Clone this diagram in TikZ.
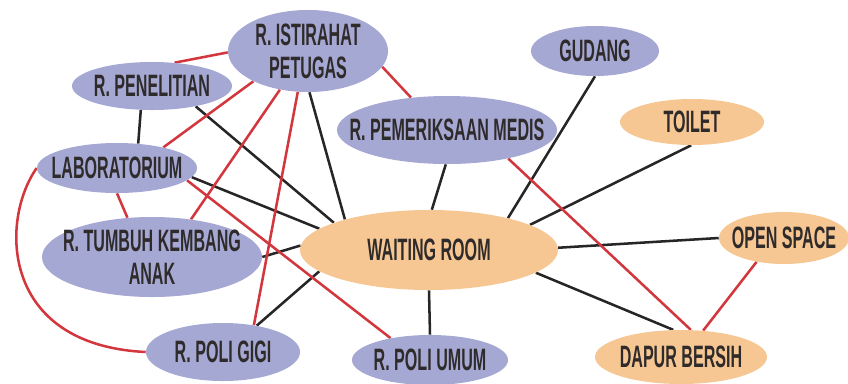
\documentclass[tikz,border=0pt]{standalone}
\usepackage{fontspec}
\newfontfamily\roomfont{Liberation Sans}[FakeStretch=0.52]
\usetikzlibrary{shapes.geometric,backgrounds}
\definecolor{roompurple}{HTML}{A6A8D4}
\definecolor{hallorange}{HTML}{F6C793}
\definecolor{tagtext}{HTML}{2F2B2B}
\definecolor{linkred}{HTML}{D2373D}
\definecolor{linkblack}{HTML}{262626}

\begin{document}
\begin{tikzpicture}[x=0.025cm, y=-0.025cm,
  room/.style={ellipse, fill=roompurple, inner sep=0pt},
  hall/.style={ellipse, fill=hallorange, inner sep=0pt},
  tag/.style={text=tagtext, align=center, font=\roomfont\bfseries\fontsize{22}{23.5}\selectfont},
  direct/.style={draw=linkblack, line width=1.8pt},
  indirect/.style={draw=linkred, line width=1.8pt}]
\useasboundingbox (0,0) rectangle (848,383);

\node[room, minimum width=4.0cm, minimum height=2.05cm, label={[tag]center:R. ISTIRAHAT\\PETUGAS}] (ist) at (308,51) {};
\node[room, minimum width=4.0cm, minimum height=1.2cm, label={[tag]center:R. PENELITIAN}] (pen) at (152,86) {};
\node[room, minimum width=4.0cm, minimum height=1.25cm, label={[tag]center:LABORATORIUM}] (lab) at (117,168) {};
\node[room, minimum width=5.5cm, minimum height=1.7cm, label={[tag]center:R. PEMERIKSAAN MEDIS}] (pem) at (447,130) {};
\node[room, minimum width=3.2cm, minimum height=1.25cm, label={[tag]center:GUDANG}] (gud) at (595,51) {};
\node[hall, minimum width=3.6cm, minimum height=1.15cm, label={[tag]center:TOILET}] (toi) at (692,122) {};
\node[hall, minimum width=6.45cm, minimum height=2.0cm, label={[tag]center:WAITING ROOM}] (wr) at (429,250) {};
\node[hall, minimum width=3.25cm, minimum height=1.3cm, label={[tag]center:OPEN SPACE}] (ops) at (784,238) {};
\node[hall, minimum width=4.3cm, minimum height=1.35cm, label={[tag]center:DAPUR BERSIH}] (dap) at (681,357) {};
\node[room, minimum width=3.9cm, minimum height=1.25cm, label={[tag]center:R. POLI UMUM}] (pum) at (430,360) {};
\node[room, minimum width=3.85cm, minimum height=1.45cm, label={[tag]center:R. POLI GIGI}] (pgi) at (223,352) {};
\node[room, minimum width=5.5cm, minimum height=2.0cm, label={[tag]center:R. TUMBUH KEMBANG\\ANAK}] (tka) at (152,257) {};

\begin{scope}[on background layer]
\draw[direct] (pen.245) -- (lab.49);
\draw[direct] (pen.335) -- (wr.164);
\draw[direct] (lab.353) -- (wr.169);
\draw[direct] (ist.272) -- (wr.160);
\draw[direct] (tka.0) -- (wr.178);
\draw[direct] (pgi.38) -- (wr.191);
\draw[direct] (pum.90) -- (wr.270);
\draw[direct] (pem.268) -- (wr.86);
\draw[direct] (gud.270) -- (wr.22);
\draw[direct] (toi.268) -- (wr.14);
\draw[direct] (ops.180) -- (wr.1);
\draw[direct] (dap.106) -- (wr.348);

\draw[indirect] (ist.181) -- (pen.46);
\draw[indirect] (ist.348) -- (pem.138);
\draw[indirect] (ist.209) -- (lab.24);
\draw[indirect] (ist.234) -- (tka.44);
\draw[indirect] (ist.256) -- (pgi.41);
\draw[indirect] (lab.270) -- (tka.122);
\draw[indirect] (lab.350) -- (pum.151);
\draw[indirect] (lab.180) .. controls (0,220) and (0,345) .. (pgi.180);
\draw[indirect] (pem.335) -- (dap.70);
\draw[indirect] (ops.221) -- (dap.50);
\end{scope}
\end{tikzpicture}
\end{document}
